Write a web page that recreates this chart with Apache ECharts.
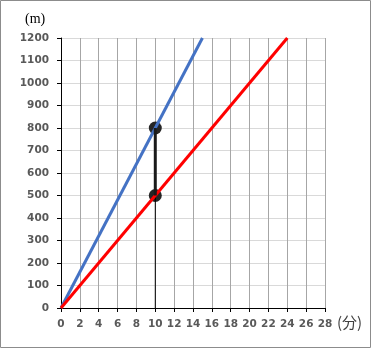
<!DOCTYPE html>
<html><head><meta charset="utf-8">
<script src="https://cdn.jsdelivr.net/npm/echarts@6/dist/echarts.min.js"></script>
<style>html,body{margin:0;padding:0;background:#fff}#c{width:371px;height:348px}</style>
</head><body><div id="c"></div>
<script>
const xTicks = [0,2,4,6,8,10,12,14,16,18,20,22,24,26,28];
const yTicks = [0,100,200,300,400,500,600,700,800,900,1000,1100,1200];
const blueLine = [[0,0],[15,1200]];
const redLine = [[0,0],[24,1200]];
const thinGuide = [[10,0],[10,500]];
const gapSegment = [[10,500],[10,800]];
const points = [[10,800],[10,500]];
const xUnit = '(分)';
const yUnit = '(m)';

const chart = echarts.init(document.getElementById('c'));
const lblFont = {color:'#595959', fontWeight:'bold', fontSize:10.5, fontFamily:'DejaVu Sans', formatter:v=>String(v)};
chart.setOption({
  animation:false,
  grid:{left:61, right:46, top:38, bottom:40},
  xAxis:{type:'value', min:xTicks[0], max:xTicks[xTicks.length-1], interval:2,
    axisLine:{lineStyle:{color:'#000', width:1}},
    axisTick:{show:true, length:4, inside:false, lineStyle:{color:'#000'}},
    axisLabel:Object.assign({margin:11}, lblFont),
    splitLine:{show:true, lineStyle:{color:'#a6a6a6', width:1}}},
  yAxis:{type:'value', min:yTicks[0], max:yTicks[yTicks.length-1], interval:100,
    axisLine:{show:true, lineStyle:{color:'#000', width:1}},
    axisTick:{show:true, length:4, inside:false, lineStyle:{color:'#000'}},
    axisLabel:Object.assign({margin:12}, lblFont),
    splitLine:{show:true, lineStyle:{color:'#d9d9d9', width:1}}},
  graphic:[
    {type:'rect', shape:{x:0.5,y:0.5,width:370,height:347}, style:{fill:null, stroke:'#8c8c8c', lineWidth:1}, silent:true},
    {type:'text', left:25, top:12, style:{text:yUnit, fontSize:14, fontFamily:'Liberation Serif', fill:'#000'}},
    {type:'text', left:337, top:315, style:{text:xUnit, fontSize:15, fontFamily:'Noto Sans CJK JP', fill:'#404040'}}
  ],
  series:[
    {type:'line', data:thinGuide, symbol:'none', lineStyle:{color:'#000', width:1}},
    {type:'line', data:blueLine, symbol:'none', lineStyle:{color:'#4472C4', width:3}},
    {type:'line', data:redLine, symbol:'none', lineStyle:{color:'#ff0000', width:3}},
    {type:'line', data:gapSegment, symbol:'none', lineStyle:{color:'#1a1a1a', width:3}},
    {type:'scatter', data:points, symbolSize:13, itemStyle:{color:'#262626', opacity:1}}
  ]
});
</script></body></html>
